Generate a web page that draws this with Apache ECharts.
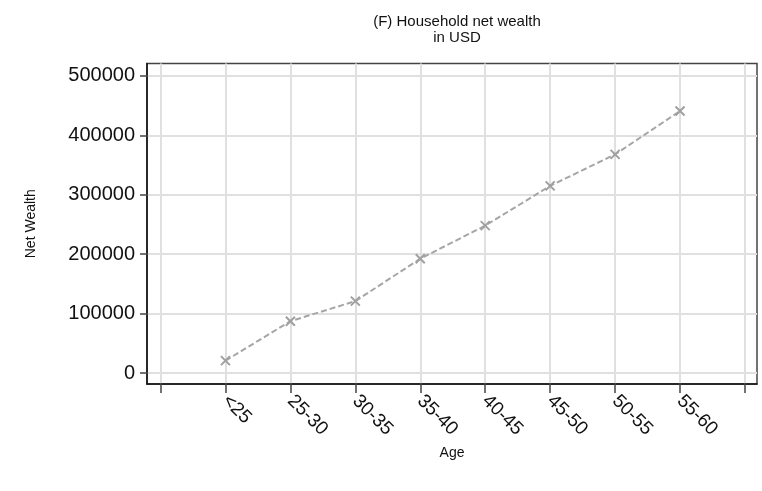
<!DOCTYPE html>
<html>
<head>
<meta charset="utf-8">
<script src="https://cdn.jsdelivr.net/npm/echarts@6/dist/echarts.min.js"></script>
<style>html,body{margin:0;padding:0;background:#fff;}#c{width:762px;height:491px;}</style>
</head>
<body>
<div id="c"></div>
<script>
const categories = ['<25', '25-30', '30-35', '35-40', '40-45', '45-50', '50-55', '55-60'];
const netWealth = [20800, 87200, 121000, 192400, 248100, 315000, 368000, 441000];
const yTicks = [0, 100000, 200000, 300000, 400000, 500000];
const xTickPositions = [0, 1, 2, 3, 4, 5, 6, 7, 8, 9];

const seriesData = categories.map((c, i) => [i + 1, netWealth[i]]);
const FONT = '"Liberation Sans", Arial, Helvetica, sans-serif';

const chart = echarts.init(document.getElementById('c'), null, {renderer: 'canvas'});
chart.setOption({
  backgroundColor: '#fff',
  animation: false,
  title: {
    text: '(F) Household net wealth\nin USD',
    left: 452,
    top: 8.5,
    textAlign: 'center',
    textStyle: {fontFamily: FONT, fontSize: 15, fontWeight: 'normal', color: '#111', lineHeight: 16}
  },
  grid: {
    left: 147, right: 5, top: 63.5, bottom: 107,
    show: true, borderColor: '#444', borderWidth: 1.5, backgroundColor: '#fff'
  },
  xAxis: {
    type: 'value',
    min: -0.208, max: 9.185,
    name: 'Age',
    nameLocation: 'middle',
    nameGap: 61,
    nameTextStyle: {fontFamily: FONT, fontSize: 14, color: '#111'},
    axisLine: {show: true, onZero: false, lineStyle: {color: '#111', width: 1.5}},
    axisTick: {show: true, length: 9, customValues: xTickPositions, lineStyle: {color: '#444', width: 1.5}},
    axisLabel: {
      customValues: categories.map((c, i) => i + 1),
      formatter: v => categories[Math.round(v) - 1] || '',
      rotate: -45, margin: 14,
      fontFamily: FONT, fontSize: 19, color: '#111'
    },
    splitLine: {show: true, lineStyle: {color: '#e0e0e0', width: 2}}
  },
  yAxis: {
    type: 'value',
    min: -18500, max: 521000,
    name: 'Net Wealth',
    nameLocation: 'middle',
    nameRotate: 90,
    nameGap: 109,
    nameTextStyle: {fontFamily: FONT, fontSize: 14, color: '#111'},
    axisLine: {show: true, onZero: false, lineStyle: {color: '#111', width: 1.5}},
    axisTick: {show: true, length: 7, customValues: yTicks, lineStyle: {color: '#444', width: 1.5}},
    axisLabel: {
      customValues: yTicks,
      formatter: v => String(v),
      margin: 12,
      fontFamily: FONT, fontSize: 20, color: '#111'
    },
    splitLine: {show: true, lineStyle: {color: '#e0e0e0', width: 2}}
  },
  series: [{
    type: 'line',
    data: seriesData,
    lineStyle: {color: '#a6a6a6', width: 2, type: [6, 3]},
    symbol: 'path://M0,0L10,10M10,0L0,10',
    symbolSize: 9,
    itemStyle: {color: 'none', borderColor: '#a0a0a0', borderWidth: 2},
    z: 5
  }]
});
</script>
</body>
</html>
